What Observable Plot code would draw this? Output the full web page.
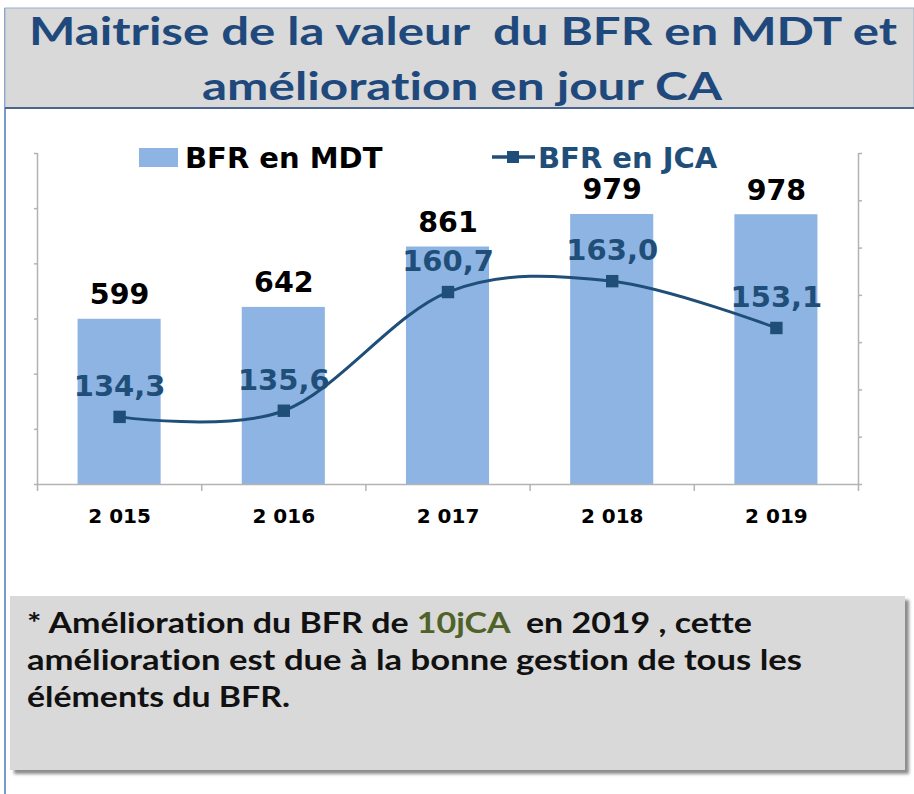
<!DOCTYPE html>
<html>
<head>
<meta charset="utf-8">
<script src="https://cdn.jsdelivr.net/npm/d3@7"></script>
<script src="https://cdn.jsdelivr.net/npm/@observablehq/plot@0.6"></script>
<style>
  html, body { margin: 0; padding: 0; background: #fff; }
  #page { position: relative; width: 914px; height: 794px; overflow: hidden; background: #fff; }
  .abs { position: absolute; }
  svg text { font-variant-ligatures: none; }
  .pre { white-space: pre; }
</style>
</head>
<body>
<div id="page">
  <div class="abs" style="left:4px;top:8px;width:2px;height:786px;background:#7b98cc"></div>
  <svg class="abs" style="left:0;top:0" width="914" height="112">
    <rect x="5" y="8" width="909" height="100" fill="#d9d9d9" stroke="#9db0cf" stroke-width="1"/>
    <line x1="5" y1="108" x2="914" y2="108" stroke="#4a6590" stroke-width="2"/>
    <text class="pre" x="29" y="45" textLength="868" lengthAdjust="spacingAndGlyphs" font-family="Lato" font-weight="700" font-size="39" fill="#1f497d">Maitrise de la valeur  du BFR en MDT et</text>
    <text x="202" y="100" textLength="520" lengthAdjust="spacingAndGlyphs" font-family="Lato" font-weight="700" font-size="39" fill="#1f497d">amélioration en jour CA</text>
  </svg>
  <div id="chart" class="abs" style="left:0;top:110px"></div>
  <svg class="abs" style="left:0;top:130px" width="914" height="45">
    <rect x="139" y="18" width="39" height="19" fill="#8eb4e3"/>
    <text x="185" y="37.5" font-family="DejaVu Sans" font-weight="bold" font-size="29" fill="#000">BFR en MDT</text>
    <line x1="492" y1="27" x2="535" y2="27" stroke="#1f4e79" stroke-width="3.5"/>
    <rect x="507" y="21" width="12" height="12" fill="#1f4e79"/>
    <text x="538" y="37.5" font-family="DejaVu Sans" font-weight="bold" font-size="29" fill="#1f4e79">BFR en JCA</text>
  </svg>
  <div class="abs" style="left:10px;top:596px;width:895px;height:174px;background:#d9d9d9;box-shadow:4px 4px 3px rgba(0,0,0,0.45)">
    <svg width="895" height="174" style="display:block">
      <text class="pre" x="17" y="37" textLength="725" lengthAdjust="spacingAndGlyphs" font-family="Lato" font-weight="700" font-size="28" fill="#111">* Amélioration du BFR de <tspan fill="#4f6228">10jCA</tspan>  en 2019 , cette</text>
      <text x="17" y="74" textLength="775" lengthAdjust="spacingAndGlyphs" font-family="Lato" font-weight="700" font-size="28" fill="#111">amélioration est due à la bonne gestion de tous les</text>
      <text x="17" y="111" textLength="263" lengthAdjust="spacingAndGlyphs" font-family="Lato" font-weight="700" font-size="28" fill="#111">éléments du BFR.</text>
    </svg>
  </div>
</div>
<script>
const years = [2015, 2016, 2017, 2018, 2019];
const yearLabels = ["2 015", "2 016", "2 017", "2 018", "2 019"];
const bfrMDT = [599, 642, 861, 979, 978];
const bfrJCA = [134.3, 135.6, 160.7, 163.0, 153.1];
const jcaLabels = ["134,3", "135,6", "160,7", "163,0", "153,1"];
const mdtTicks = [0, 200, 400, 600, 800, 1000, 1200];
const jcaTicks = [120, 130, 140, 150, 160, 170, 180, 190];

const data = years.map((year, i) => ({
  year, label: yearLabels[i], mdt: bfrMDT[i], jca: bfrJCA[i], jcaLabel: jcaLabels[i]
}));

const half = 0.253;
const bounds = [...years.map(y => y - 0.5), years[years.length - 1] + 0.5];
const yMax = mdtTicks[mdtTicks.length - 1];
const jMin = jcaTicks[0], jMax = jcaTicks[jcaTicks.length - 1];
const toY = v => (v - jMin) / (jMax - jMin) * yMax;
const axisGray = "#b3b3b3";
const lineBlue = "#1f4e79";

const chart = Plot.plot({
  width: 914,
  height: 420,
  marginTop: 43,
  marginBottom: 46,
  marginLeft: 37,
  marginRight: 56,
  style: {fontFamily: "DejaVu Sans", background: "transparent", overflow: "visible"},
  x: {domain: [bounds[0], bounds[bounds.length - 1]], axis: null},
  y: {domain: [0, yMax], axis: null},
  marks: [
    Plot.rectY(data, {x1: d => d.year - half, x2: d => d.year + half, y1: 0, y2: "mdt", fill: "#8eb4e3"}),
    Plot.ruleY([0], {stroke: axisGray, strokeWidth: 1.5}),
    Plot.ruleX([bounds[0], bounds[bounds.length - 1]], {y1: 0, y2: yMax, stroke: axisGray, strokeWidth: 1.5}),
    Plot.axisX({ticks: bounds, tickSize: 7, tickFormat: () => "", label: null, stroke: axisGray, strokeWidth: 1.5}),
    Plot.axisX({ticks: years, tickSize: 0, tickPadding: 24.5, tickFormat: d => yearLabels[years.indexOf(d)], label: null, fontSize: 20, fontWeight: "bold", fill: "#000"}),
    Plot.axisY({anchor: "left", ticks: mdtTicks, tickSize: 3, tickFormat: () => "", label: null, stroke: axisGray, strokeWidth: 1.5}),
    Plot.axisY({anchor: "right", ticks: jcaTicks.map(toY), tickSize: 3, tickFormat: () => "", label: null, stroke: axisGray, strokeWidth: 1.5}),
    Plot.line(data, {x: "year", y: d => toY(d.jca), curve: "cardinal", stroke: lineBlue, strokeWidth: 3}),
    Plot.dot(data, {x: "year", y: d => toY(d.jca), symbol: "square", r: 7, fill: lineBlue}),
    Plot.text(data, {x: "year", y: "mdt", text: d => String(d.mdt), dy: -15, lineAnchor: "bottom", fontSize: 28.5, fontWeight: "bold", fill: "#000"}),
    Plot.text(data, {x: "year", y: d => toY(d.jca), text: "jcaLabel", dy: -21, lineAnchor: "bottom", fontSize: 29, fontWeight: "bold", fill: lineBlue})
  ]
});
document.getElementById("chart").appendChild(chart);
</script>
</body>
</html>
